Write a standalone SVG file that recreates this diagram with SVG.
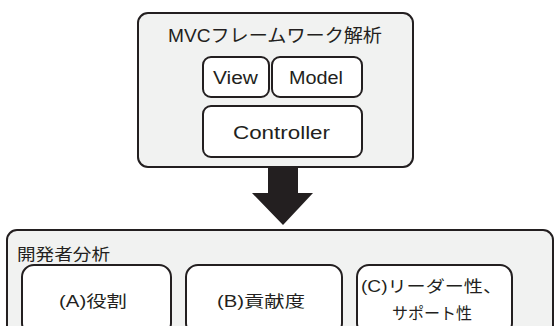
<svg xmlns="http://www.w3.org/2000/svg" width="555" height="326" viewBox="0 0 555 326">
<style>
.outer{fill:#f1f2f1;stroke:#231f20;stroke-width:2}
.inner{fill:#ffffff;stroke:#231f20;stroke-width:2}
text{font-family:"Liberation Sans","Noto Sans CJK JP",sans-serif;fill:#231f20;font-size:16px}
.c{text-anchor:middle}
.l{font-size:18px}
</style>
<rect width="555" height="326" fill="#ffffff"/>
<g id="mvc">
<rect class="outer" x="138" y="13" width="275" height="154" rx="10"/>
<text class="l" x="168" y="42" textLength="214" lengthAdjust="spacingAndGlyphs">MVCフレームワーク解析</text>
</g>
<g id="view">
<rect class="inner" x="203" y="57" width="66" height="40" rx="8"/>
<text class="l" x="213" y="84" textLength="45" lengthAdjust="spacingAndGlyphs">View</text>
</g>
<g id="model">
<rect class="inner" x="272" y="57" width="90" height="40" rx="8"/>
<text class="l" x="289" y="84" textLength="54" lengthAdjust="spacingAndGlyphs">Model</text>
</g>
<g id="controller">
<rect class="inner" x="203" y="106" width="159" height="51" rx="8"/>
<text class="l" x="233" y="139" textLength="97" lengthAdjust="spacingAndGlyphs">Controller</text>
</g>
<g id="connectors">
<polygon points="268,167 298,167 298,193 313,193 283,225 252,193 268,193" fill="#231f20"/>
</g>
<g id="dev">
<rect class="outer" x="7" y="230" width="546" height="110" rx="10"/>
<text x="17" y="260" font-size="18.5" textLength="93" lengthAdjust="spacingAndGlyphs">開発者分析</text>
</g>
<g id="a">
<rect class="inner" x="22" y="265" width="149" height="70" rx="12"/>
<text x="59" y="307" textLength="68" lengthAdjust="spacingAndGlyphs">(A)役割</text>
</g>
<g id="b">
<rect class="inner" x="186" y="265" width="156" height="70" rx="12"/>
<text x="217" y="307" textLength="88" lengthAdjust="spacingAndGlyphs">(B)貢献度</text>
</g>
<g id="c">
<rect class="inner" x="357" y="265" width="155" height="70" rx="12"/>
<text x="361" y="292" textLength="141" lengthAdjust="spacingAndGlyphs">(C)リーダー性、</text>
<text x="392" y="319" textLength="80" lengthAdjust="spacingAndGlyphs">サポート性</text>
</g>
</svg>
